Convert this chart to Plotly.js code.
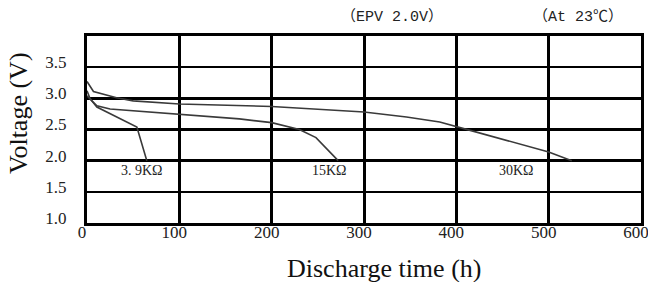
<!DOCTYPE html>
<html>
<head>
<meta charset="utf-8">
<script src="https://cdn.plot.ly/plotly-3.0.1.min.js"></script>
<style>html,body{margin:0;padding:0;background:#fff}#chart{width:648px;height:282px}</style>
</head>
<body>
<div id="chart"></div>
<script>
// Discharge curves (hours, volts)
const t39k = [0, 3.5, 10.7, 32, 54, 64.8];
const v39k = [3.12, 2.99, 2.86, 2.70, 2.54, 2.0];
const t15k = [0, 5, 10.7, 25, 72, 100, 165, 200, 230, 248, 272];
const v15k = [3.04, 2.96, 2.88, 2.83, 2.78, 2.74, 2.67, 2.61, 2.50, 2.37, 2.0];
const t30k = [0, 7, 32, 50, 100, 200, 300, 346, 382, 400, 414, 500, 525];
const v30k = [3.27, 3.11, 3.01, 2.96, 2.91, 2.87, 2.78, 2.70, 2.62, 2.54, 2.49, 2.14, 2.0];
const seriesLabels = ["3. 9KΩ", "15KΩ", "30KΩ"];
const labelX = [60, 263, 465];
const labelY = [1.85, 1.85, 1.85];
const xTicks = [0, 100, 200, 300, 400, 500, 600];
const yTicks = [1.0, 1.5, 2.0, 2.5, 3.0, 3.5];
const yTickText = ["1.0", "1.5", "2.0", "2.5", "3.0", "3.5"];
const noteEPV = "（EPV 2.0V）";
const noteTemp = "（At 23℃）";
const xTitle = "Discharge time (h)";
const yTitle = "Voltage (V)";

const lineStyle = {color: '#3a3a3a', width: 1.6};
const traces = [
  {x: t39k, y: v39k, mode: 'lines', line: lineStyle, name: seriesLabels[0], hoverinfo: 'skip'},
  {x: t15k, y: v15k, mode: 'lines', line: lineStyle, name: seriesLabels[1], hoverinfo: 'skip'},
  {x: t30k, y: v30k, mode: 'lines', line: lineStyle, name: seriesLabels[2], hoverinfo: 'skip'}
];

const serif = 'Liberation Serif, Times New Roman, serif';
const monoCJK = 'Liberation Mono, Noto Sans CJK SC, monospace';
const L = 87, R = 641, T = 36, B = 223, W = 648, H = 282;
const px = v => (v - L) / (R - L);
const py = v => (B - v) / (B - T);

const annotations = seriesLabels.map((s, i) => ({
  x: labelX[i], y: labelY[i], xref: 'x', yref: 'y', text: s, showarrow: false,
  font: {family: serif, size: 14, color: '#222'}
}));
annotations.push({x: px(392), y: py(17), xref: 'paper', yref: 'paper', xanchor: 'center', yanchor: 'middle',
  text: noteEPV, showarrow: false, font: {family: monoCJK, size: 15, color: '#222'}});
annotations.push({x: px(578), y: py(17), xref: 'paper', yref: 'paper', xanchor: 'center', yanchor: 'middle',
  text: noteTemp, showarrow: false, font: {family: monoCJK, size: 15, color: '#222'}});
annotations.push({x: px(384), y: py(268), xref: 'paper', yref: 'paper', xanchor: 'center', yanchor: 'middle',
  text: xTitle, showarrow: false, font: {family: serif, size: 26, color: '#111'}});
annotations.push({x: px(18), y: py(113), xref: 'paper', yref: 'paper', xanchor: 'center', yanchor: 'middle',
  text: yTitle, textangle: -90, showarrow: false, font: {family: serif, size: 26, color: '#111'}});

const layout = {
  width: W, height: H,
  margin: {l: L, r: W - R, t: T, b: H - B, pad: 0},
  paper_bgcolor: '#fff', plot_bgcolor: '#fff',
  showlegend: false,
  xaxis: {
    range: [0, 600], tickvals: xTicks, ticktext: xTicks.map(String),
    showgrid: true, gridcolor: '#000', gridwidth: 3,
    showline: true, linecolor: '#000', linewidth: 3, mirror: true,
    zeroline: false, ticks: '', ticklabelstandoff: -8, ticklabelshift: -5,
    ticklabeloverflow: 'allow',
    tickfont: {family: serif, size: 17, color: '#222'}
  },
  yaxis: {
    range: [1.0, 4.0], tickvals: yTicks, ticktext: yTickText,
    showgrid: true, gridcolor: '#000', gridwidth: 2.5,
    showline: true, linecolor: '#000', linewidth: 3, mirror: true,
    zeroline: false, ticks: '', ticklabelstandoff: 14, ticklabelshift: -5,
    tickfont: {family: serif, size: 17, color: '#222'}
  },
  annotations: annotations
};

Plotly.newPlot('chart', traces, layout, {staticPlot: true, displayModeBar: false});
</script>
</body>
</html>
